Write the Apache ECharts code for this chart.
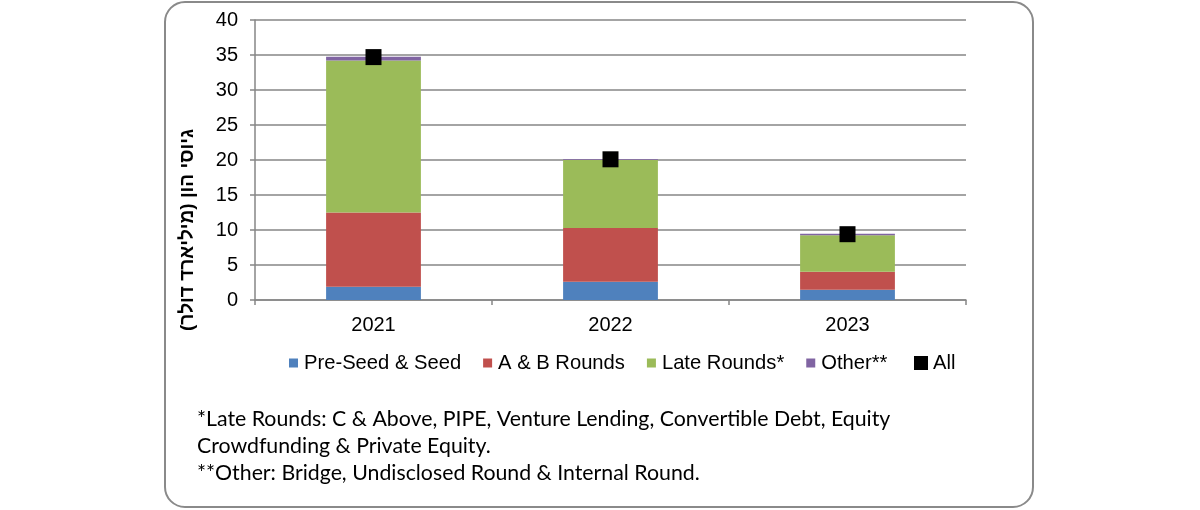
<!DOCTYPE html>
<html>
<head>
<meta charset="utf-8">
<script src="https://cdn.jsdelivr.net/npm/echarts@6/dist/echarts.min.js"></script>
<style>html,body{margin:0;padding:0;background:#fff}#c{width:1200px;height:510px}</style>
</head>
<body>
<div id="c"></div>
<script>
const categories = ['2021', '2022', '2023'];
const preSeed = [1.9, 2.6, 1.45];
const abRounds = [10.6, 7.7, 2.6];
const lateRounds = [21.7, 9.7, 5.2];
const other = [0.55, 0.1, 0.2];
const allTotal = [34.7, 20.1, 9.4];
const yTicks = { min: 0, max: 40, interval: 5 };
const footnotes = [
  '*Late Rounds: C & Above, PIPE, Venture Lending, Convertible Debt, Equity',
  'Crowdfunding & Private Equity.',
  '**Other: Bridge, Undisclosed Round & Internal Round.'
];
const yTitle = 'גיוסי הון (מיליארד דולר)';

const font = '"Liberation Sans", Arial, sans-serif';
const gray = '#868686';
const chart = echarts.init(document.getElementById('c'));
const barBase = { type: 'bar', stack: 'total', barWidth: '40%' };
chart.setOption({
  animation: false,
  textStyle: { fontFamily: font },
  grid: { left: 255, right: 234, top: 20, bottom: 210 },
  legend: [{
    left: 284, top: 348, itemWidth: 9, itemHeight: 9, itemGap: 22, icon: 'rect',
    textStyle: { fontFamily: font, fontSize: 20.2, color: '#000', padding: [0, 0, 0, 1] },
    data: ['Pre-Seed & Seed', 'A & B Rounds', 'Late Rounds*', 'Other**']
  }, {
    left: 909, top: 348, itemWidth: 14, itemHeight: 14, icon: 'rect',
    textStyle: { fontFamily: font, fontSize: 20.2, color: '#000', padding: [0, 0, 0, 0] },
    data: ['All']
  }],
  xAxis: {
    type: 'category', data: categories,
    axisLine: { lineStyle: { color: gray, width: 1.5 } },
    axisTick: { show: true, length: 5, lineStyle: { color: gray, width: 1.5 } },
    axisLabel: { fontFamily: font, fontSize: 20, color: '#000', margin: 15 }
  },
  yAxis: {
    type: 'value', min: yTicks.min, max: yTicks.max, interval: yTicks.interval,
    axisLine: { show: true, lineStyle: { color: gray, width: 1.5 } },
    axisTick: { show: true, length: 5, lineStyle: { color: gray, width: 1.5 } },
    splitLine: { lineStyle: { color: gray, width: 1.5 } },
    axisLabel: { fontFamily: font, fontSize: 20, color: '#000', margin: 17 }
  },
  series: [
    Object.assign({ name: 'Pre-Seed & Seed', data: preSeed, itemStyle: { color: '#4F81BD' } }, barBase),
    Object.assign({ name: 'A & B Rounds', data: abRounds, itemStyle: { color: '#C0504D' } }, barBase),
    Object.assign({ name: 'Late Rounds*', data: lateRounds, itemStyle: { color: '#9BBB59' } }, barBase),
    Object.assign({ name: 'Other**', data: other, itemStyle: { color: '#8064A2' } }, barBase),
    { name: 'All', type: 'scatter', data: allTotal, symbol: 'rect', symbolSize: 16, z: 5,
      itemStyle: { color: '#000', opacity: 1 } }
  ],
  graphic: [
    { type: 'rect', shape: { x: 165, y: 2, width: 868, height: 505, r: 20 },
      style: { fill: 'none', stroke: '#8a8a8a', lineWidth: 2 }, z: -1 },
    { type: 'text', x: 188, y: 230, rotation: Math.PI / 2,
      style: { text: yTitle, font: 'bold 19px ' + font, fill: '#000', textAlign: 'center', textVerticalAlign: 'middle' } },
    { type: 'text', x: 197, y: 406,
      style: { text: footnotes.join('\n'), font: '21.3px Lato, "Open Sans", sans-serif', lineHeight: 27, fill: '#000', textVerticalAlign: 'top' } }
  ]
});
</script>
</body>
</html>
